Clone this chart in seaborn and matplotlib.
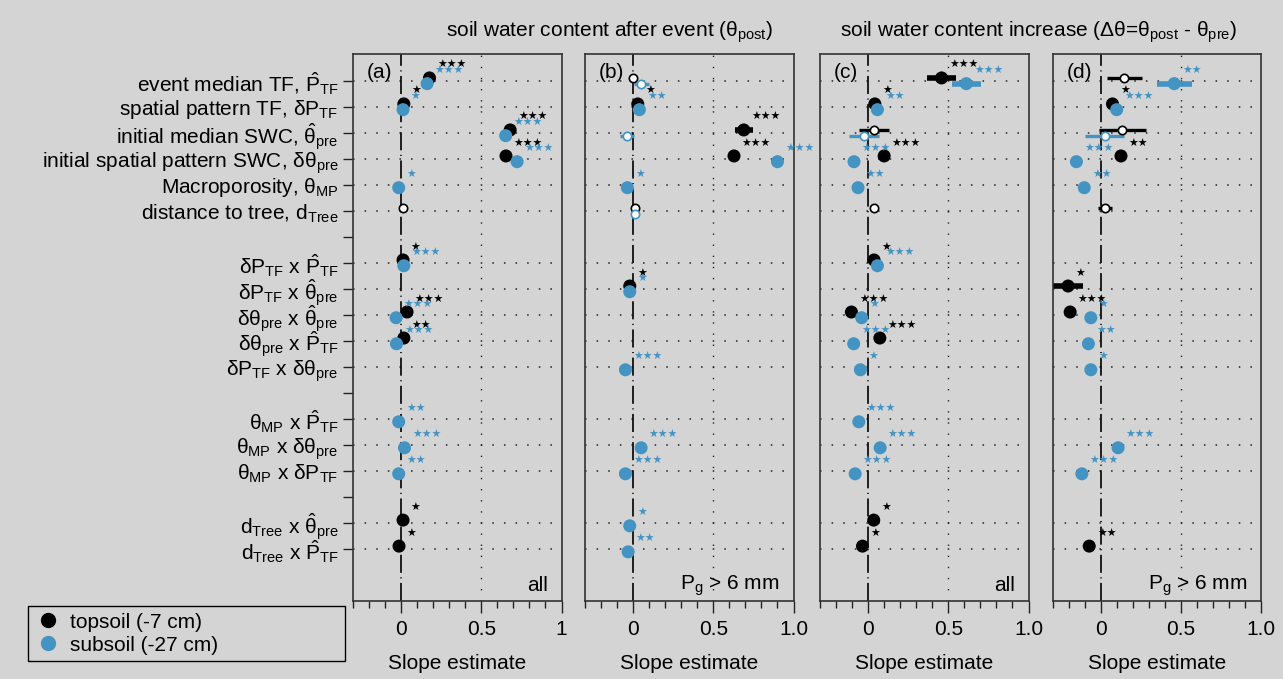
import numpy as np
import pandas as pd
import matplotlib
matplotlib.use("Agg")
import matplotlib.pyplot as plt
import seaborn as sns
from matplotlib.lines import Line2D

nan = np.nan

row_labels = [
    r"event median TF, $\hat{\mathrm{P}}_\mathrm{TF}$",
    r"spatial pattern TF, $\mathrm{δP}_\mathrm{TF}$",
    r"initial median SWC, $\hat{\mathrm{θ}}_\mathrm{pre}$",
    r"initial spatial pattern SWC, $\mathrm{δθ}_\mathrm{pre}$",
    r"Macroporosity, $\mathrm{θ}_\mathrm{MP}$",
    r"distance to tree, $\mathrm{d}_\mathrm{Tree}$",
    "",
    r"$\mathrm{δP}_\mathrm{TF}$ x $\hat{\mathrm{P}}_\mathrm{TF}$",
    r"$\mathrm{δP}_\mathrm{TF}$ x $\hat{\mathrm{θ}}_\mathrm{pre}$",
    r"$\mathrm{δθ}_\mathrm{pre}$ x $\hat{\mathrm{θ}}_\mathrm{pre}$",
    r"$\mathrm{δθ}_\mathrm{pre}$ x $\hat{\mathrm{P}}_\mathrm{TF}$",
    r"$\mathrm{δP}_\mathrm{TF}$ x $\mathrm{δθ}_\mathrm{pre}$",
    "",
    r"$\mathrm{θ}_\mathrm{MP}$ x $\hat{\mathrm{P}}_\mathrm{TF}$",
    r"$\mathrm{θ}_\mathrm{MP}$ x $\mathrm{δθ}_\mathrm{pre}$",
    r"$\mathrm{θ}_\mathrm{MP}$ x $\mathrm{δP}_\mathrm{TF}$",
    "",
    r"$\mathrm{d}_\mathrm{Tree}$ x $\hat{\mathrm{θ}}_\mathrm{pre}$",
    r"$\mathrm{d}_\mathrm{Tree}$ x $\hat{\mathrm{P}}_\mathrm{TF}$",
]

soils = ["topsoil (-7 cm)", "subsoil (-27 cm)"]
panel_ids = ["(a)", "(b)", "(c)", "(d)"]
panel_notes = ["all", r"$\mathrm{P}_\mathrm{g}$ > 6 mm", "all", r"$\mathrm{P}_\mathrm{g}$ > 6 mm"]
xtick_labels = [["0", "0.5", "1"], ["0", "0.5", "1.0"], ["0", "0.5", "1.0"], ["0", "0.5", "1.0"]]
titles = [r"soil water content after event ($\mathrm{θ}_\mathrm{post}$)",
          r"soil water content increase (Δθ=$\mathrm{θ}_\mathrm{post}$ - $\mathrm{θ}_\mathrm{pre}$)"]

# panel (a): soil water content after event, all events
a_top = [0.177, 0.017, 0.68, 0.654, nan, 0.014, nan, 0.012, nan, 0.037, 0.017, nan, nan, nan, nan, nan, nan, 0.012, -0.013]
a_top_err = [0] * 19
a_top_sig = ["***", "*", "***", "***", "", "", "", "*", "", "***", "**", "", "", "", "", "", "", "*", "*"]
a_sub = [0.162, 0.012, 0.652, 0.723, -0.015, nan, nan, 0.017, nan, -0.031, -0.029, nan, nan, -0.015, 0.021, -0.015, nan, nan, nan]
a_sub_err = [0] * 19
a_sub_sig = ["***", "*", "***", "***", "*", "", "", "***", "", "***", "***", "", "", "**", "***", "**", "", "", ""]

# panel (b): after event, Pg > 6 mm
b_top = [0.0, 0.029, 0.69, 0.629, nan, 0.014, nan, nan, -0.021, nan, nan, nan, nan, nan, nan, nan, nan, nan, nan]
b_top_err = [0, 0, 0.055, 0, 0, 0, 0, 0, 0, 0, 0, 0, 0, 0, 0, 0, 0, 0, 0]
b_top_sig = ["", "*", "***", "***", "", "", "", "", "*", "", "", "", "", "", "", "", "", "", ""]
b_sub = [0.05, 0.039, -0.038, 0.90, -0.036, 0.014, nan, nan, -0.021, nan, nan, -0.048, nan, nan, 0.05, -0.048, nan, -0.021, -0.031]
b_sub_err = [0.047, 0, 0.045, 0, 0, 0, 0, 0, 0, 0, 0, 0, 0, 0, 0, 0, 0, 0, 0]
b_sub_sig = ["", "**", "", "***", "*", "", "", "", "*", "", "", "***", "", "", "***", "***", "", "*", "**"]

# panel (c): soil water content increase, all events
c_top = [0.458, 0.042, 0.037, 0.10, nan, 0.037, nan, 0.037, nan, -0.104, 0.073, nan, nan, nan, nan, nan, nan, 0.035, -0.035]
c_top_err = [0.09, 0, 0.095, 0, 0, 0, 0, 0, 0, 0, 0, 0, 0, 0, 0, 0, 0, 0, 0]
c_top_sig = ["***", "*", "", "***", "", "", "", "*", "", "***", "***", "", "", "", "", "", "", "*", "*"]
c_sub = [0.612, 0.058, -0.025, -0.088, -0.063, nan, nan, 0.058, nan, -0.04, -0.09, -0.048, nan, -0.058, 0.075, -0.081, nan, nan, nan]
c_sub_err = [0.09, 0, 0.095, 0, 0, 0, 0, 0, 0, 0, 0, 0, 0, 0, 0, 0, 0, 0, 0]
c_sub_sig = ["***", "**", "", "***", "**", "", "", "***", "", "*", "***", "*", "", "***", "***", "***", "", "", ""]

# panel (d): increase, Pg > 6 mm
d_top = [0.147, 0.074, 0.135, 0.127, nan, 0.029, nan, nan, -0.203, -0.19, nan, nan, nan, nan, nan, nan, nan, nan, -0.071]
d_top_err = [0.11, 0, 0.145, 0, 0, 0.043, 0, 0, 0.095, 0, 0, 0, 0, 0, 0, 0, 0, 0, 0]
d_top_sig = ["", "*", "", "**", "", "", "", "", "*", "***", "", "", "", "", "", "", "", "", "**"]
d_sub = [0.459, 0.10, 0.025, -0.151, -0.102, nan, nan, nan, nan, -0.061, -0.076, -0.061, nan, nan, 0.109, -0.117, nan, nan, nan]
d_sub_err = [0.11, 0, 0.12, 0, 0, 0, 0, 0, 0, 0, 0, 0, 0, 0, 0, 0, 0, 0, 0]
d_sub_sig = ["**", "***", "", "***", "**", "", "", "", "", "*", "**", "*", "", "", "***", "***", "", "", ""]

panel_data = [
    (a_top, a_top_err, a_top_sig, a_sub, a_sub_err, a_sub_sig),
    (b_top, b_top_err, b_top_sig, b_sub, b_sub_err, b_sub_sig),
    (c_top, c_top_err, c_top_sig, c_sub, c_sub_err, c_sub_sig),
    (d_top, d_top_err, d_top_sig, d_sub, d_sub_err, d_sub_sig),
]

frames = []
for pid, (t, te, ts, s, se, ss) in zip(panel_ids, panel_data):
    for soil, est, err, sig, off in [(soils[0], t, te, ts, -0.11), (soils[1], s, se, ss, 0.11)]:
        frames.append(pd.DataFrame({"panel": pid, "soil": soil, "row": np.arange(19),
                                    "est": est, "err": err, "sig": sig,
                                    "y": np.arange(19) + off}))
df = pd.concat(frames, ignore_index=True).dropna(subset=["est"])

bg = "#d4d4d4"
colours = {soils[0]: "black", soils[1]: "#4393c3"}

sns.set_theme(style="white")
plt.rcParams["font.family"] = ["Liberation Sans", "DejaVu Sans"]
plt.rcParams["mathtext.fontset"] = "custom"
plt.rcParams["mathtext.rm"] = "Liberation Sans"
plt.rcParams["mathtext.it"] = "Liberation Sans:italic"
plt.rcParams["mathtext.bf"] = "Liberation Sans:bold"
for key in ["text.color", "axes.labelcolor", "xtick.color", "ytick.color"]:
    plt.rcParams[key] = "black"

W, H = 1283, 679
fig = plt.figure(figsize=(W / 100, H / 100), dpi=100, facecolor=bg)

lefts = [353, 585, 820, 1052.5]
top_px, bot_px, width_px = 54, 601, 208.5
data_rows = [i for i, lab in enumerate(row_labels) if lab]

for i, pid in enumerate(panel_ids):
    ax = fig.add_axes([lefts[i] / W, 1 - bot_px / H, width_px / W, (bot_px - top_px) / H])
    ax.set_facecolor(bg)
    sub = df[df.panel == pid]

    for r in data_rows:
        ax.axhline(r, color="#222222", lw=1.1, ls=(0, (1, 6.6)), zorder=1)
    ax.axvline(0, color="#111111", lw=1.3, ls=(0, (10, 2.5, 0.6, 2.5)), zorder=1)
    ax.axvline(0.5, color="#222222", lw=1.0, ls=(0, (1, 7)), zorder=1)

    for soil in soils:
        s = sub[sub.soil == soil]
        col = colours[soil]
        bars = s[s.err > 0]
        ax.hlines(bars.y, bars.est - bars.err, bars.est + bars.err, colors=col,
                  lw=np.where(bars.sig != "", 4.0, 2.4), zorder=2)
        filled = s[s.sig != ""]
        sns.scatterplot(data=filled, x="est", y="y", color=col, s=88, edgecolor="none",
                        ax=ax, zorder=3, legend=False)
        hollow = s[s.sig == ""]
        ax.scatter(hollow.est, hollow.y, s=36, facecolor="white", edgecolor=col,
                   linewidth=1.2, zorder=4)
        for _, r in filled.iterrows():
            ax.annotate(r.sig.replace("*", "★"), (r.est, r.y), xytext=(5.5, 9),
                        textcoords="offset points", ha="left", va="center",
                        fontsize=7.8, color=col, family="DejaVu Sans", zorder=6)

    ax.set_xlim(-0.3, 1.0)
    ax.set_ylim(20.0, -1.03)
    ax.set_xticks([0, 0.5, 1.0])
    ax.set_xticklabels(xtick_labels[i], fontsize=15)
    ax.set_xticks(np.arange(-0.3, 1.01, 0.1), minor=True)
    ax.tick_params(axis="x", which="major", direction="out", length=8.6, width=1, pad=5,
                   bottom=True, color="#222222")
    ax.tick_params(axis="x", which="minor", direction="out", length=5, width=1,
                   bottom=True, color="#222222")
    ax.set_xlabel("Slope estimate", fontsize=15, labelpad=11)
    ax.set_ylabel("")
    if i == 0:
        ax.set_yticks(range(19))
        ax.set_yticklabels(row_labels, fontsize=15)
        ax.tick_params(axis="y", direction="out", length=7, width=1, pad=3.5, left=True,
                       color="#222222")
    else:
        ax.set_yticks([])
    for sp in ax.spines.values():
        sp.set_color("#333333")
        sp.set_linewidth(1.2)

    ax.annotate(pid, (0, 1), xycoords="axes fraction", xytext=(10, -13),
                textcoords="offset points", ha="left", va="center", fontsize=15)
    ax.annotate(panel_notes[i], (1, 0), xycoords="axes fraction", xytext=(-10, 11),
                textcoords="offset points", ha="right", va="center", fontsize=15)

fig.text(609.5 / W, 1 - 32 / H, titles[0], ha="center", va="center", fontsize=15)
fig.text(1039 / W, 1 - 32 / H, titles[1], ha="center", va="center", fontsize=15)

handles = [Line2D([], [], marker="o", ls="", color=colours[s], markersize=10) for s in soils]
fig.legend(handles, soils, loc="lower left", mode="expand",
           bbox_to_anchor=(28 / W, 1 - 661 / H, 317 / W, 61 / H),
           frameon=True, fancybox=False, edgecolor="black", facecolor=bg, framealpha=1,
           fontsize=15, handletextpad=0.4, labelspacing=0.2, borderpad=0.3,
           handlelength=1.3, borderaxespad=0)

fig.savefig("out.png", dpi=100, facecolor=bg)
